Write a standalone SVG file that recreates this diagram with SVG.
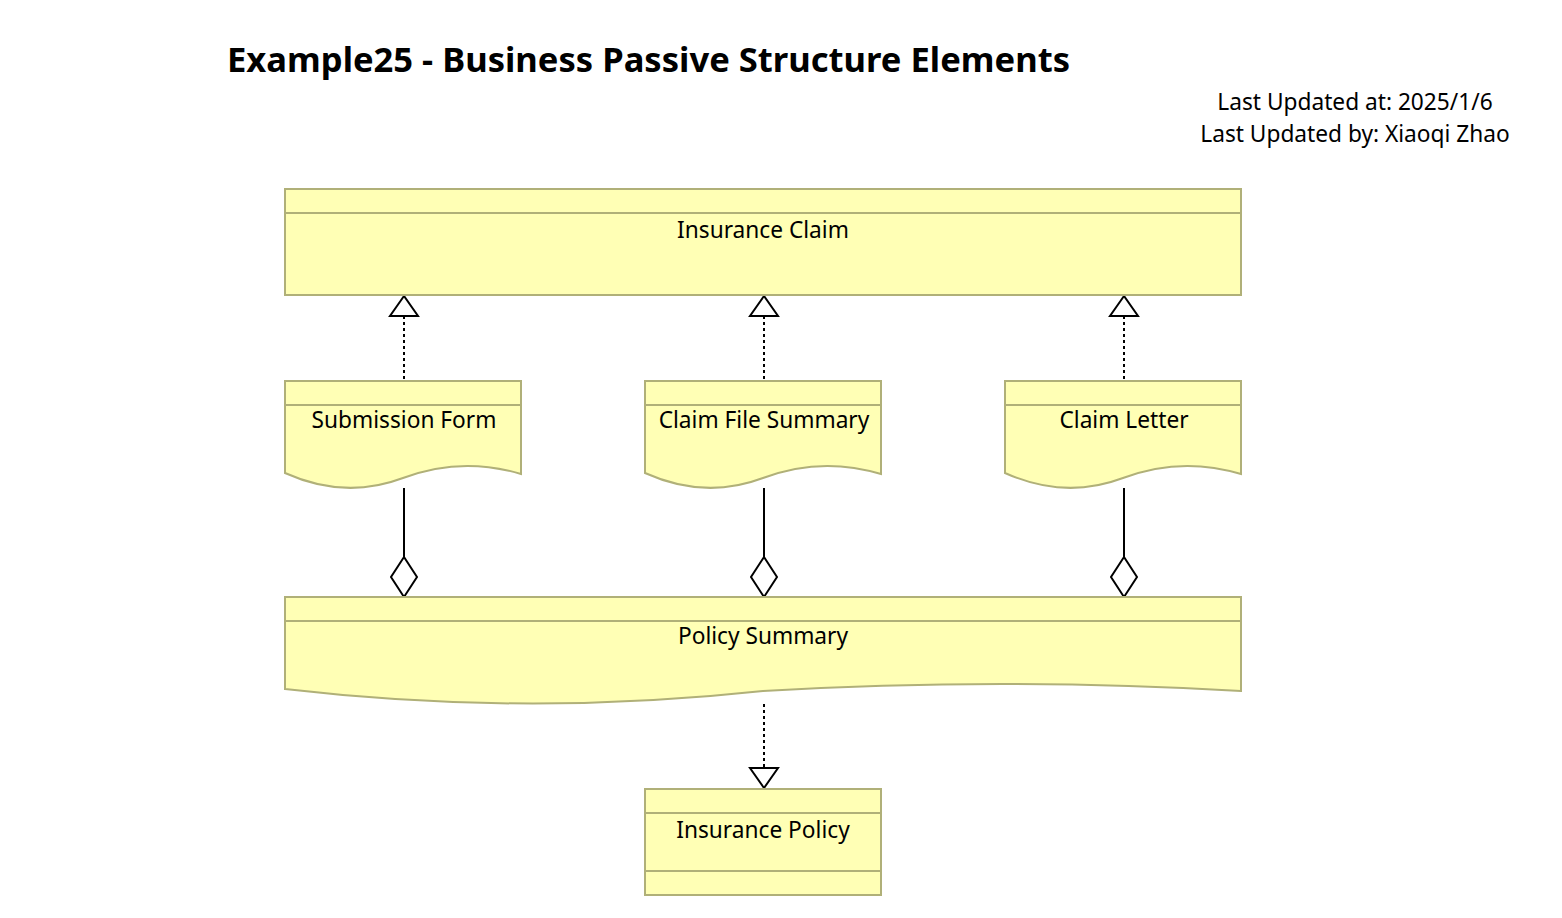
<svg xmlns="http://www.w3.org/2000/svg" width="1562" height="918" viewBox="0 0 1562 918">
<style>
.n{fill:#ffffb5;stroke:#b0b078;stroke-width:2}
.l{fill:none;stroke:#b0b078;stroke-width:2}
.t{font-family:"Noto Sans","Open Sans",sans-serif;font-size:22.7px;fill:#000;text-anchor:middle}
.c{fill:none;stroke:#000;stroke-width:2}
.d{stroke-dasharray:3 3}
.h{fill:#fff;stroke:#000;stroke-width:2}
</style>
<rect width="1562" height="918" fill="#fff"/>
<text x="227" y="72" font-family="'Noto Sans','Open Sans',sans-serif" font-size="34" font-weight="bold" textLength="843" lengthAdjust="spacingAndGlyphs">Example25 - Business Passive Structure Elements</text>
<text class="t" x="1355" y="110">Last Updated at: 2025/1/6</text>
<text class="t" x="1355" y="142">Last Updated by: Xiaoqi Zhao</text>
<g id="connectors">
<path class="c d" d="M404,316 V380"/>
<path class="h" d="M404,296 L390,316 H418 Z"/>
<path class="c d" d="M764,316 V380"/>
<path class="h" d="M764,296 L750,316 H778 Z"/>
<path class="c d" d="M1124,316 V380"/>
<path class="h" d="M1124,296 L1110,316 H1138 Z"/>
<path class="c" d="M404,488 V557"/>
<path class="h" d="M404,557 L417,577 L404,597 L391,577 Z"/>
<path class="c" d="M764,488 V557"/>
<path class="h" d="M764,557 L777,577 L764,597 L751,577 Z"/>
<path class="c" d="M1124,488 V557"/>
<path class="h" d="M1124,557 L1137,577 L1124,597 L1111,577 Z"/>
<path class="c d" d="M764,704 V768"/>
<path class="h" d="M764,788 L750,768 H778 Z"/>
</g>
<g id="insurance-claim">
<rect class="n" x="285" y="189" width="956" height="106"/>
<path class="l" d="M285,213 H1241"/>
<text class="t" x="763" y="238">Insurance Claim</text>
</g>
<g id="submission-form">
<path class="n" d="M285,381 H521 V474 Q461,456 403,478 Q345,500 285,473 Z"/>
<path class="l" d="M285,405 H521"/>
<text class="t" x="404" y="428">Submission Form</text>
</g>
<g id="claim-file-summary">
<path class="n" d="M645,381 H881 V474 Q821,456 763,478 Q705,500 645,473 Z"/>
<path class="l" d="M645,405 H881"/>
<text class="t" x="764" y="428">Claim File Summary</text>
</g>
<g id="claim-letter">
<path class="n" d="M1005,381 H1241 V474 Q1181,456 1123,478 Q1065,500 1005,473 Z"/>
<path class="l" d="M1005,405 H1241"/>
<text class="t" x="1124" y="428">Claim Letter</text>
</g>
<g id="policy-summary">
<path class="n" d="M285,597 H1241 V691 Q1002,677 763,691 Q524,717 285,689 Z"/>
<path class="l" d="M285,621 H1241"/>
<text class="t" x="763" y="644">Policy Summary</text>
</g>
<g id="insurance-policy">
<rect class="n" x="645" y="789" width="236" height="106"/>
<path class="l" d="M645,813 H881 M645,871 H881"/>
<text class="t" x="763" y="838">Insurance Policy</text>
</g>
</svg>
